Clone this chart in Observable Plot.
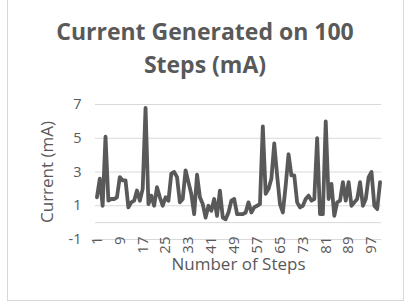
<!DOCTYPE html>
<html><head><meta charset="utf-8">
<script src="https://cdn.jsdelivr.net/npm/d3@7"></script>
<script src="https://cdn.jsdelivr.net/npm/@observablehq/plot@0.6"></script>
<style>
html,body{margin:0;padding:0;background:#fff;width:407px;height:302px;overflow:hidden;font-family:"Open Sans",sans-serif;}
#frame{position:absolute;left:7px;top:-1px;width:397px;height:302px;border:1px solid #d9d9d9;box-sizing:border-box;}
#title{position:absolute;left:7px;width:396px;top:15px;text-align:center;font-size:23px;font-weight:700;line-height:33px;color:#595959;}
#chart{position:absolute;left:0;top:85px;}
</style></head><body>
<div id="frame"></div>
<div id="title">Current Generated on 100<br>Steps (mA)</div>
<div id="chart"></div>
<script>
const steps = d3.range(1, 101);
const current = [
  1.5, 2.6, 1.0, 5.1, 1.3, 1.4, 1.4, 1.5, 2.7, 2.5,
  2.5, 0.9, 1.2, 1.3, 1.9, 1.3, 2.0, 6.8, 1.1, 1.6,
  1.0, 2.1, 1.5, 1.0, 1.5, 1.3, 2.9, 3.0, 2.7, 1.2,
  1.4, 3.1, 2.4, 1.7, 0.5, 2.85, 1.5, 1.1, 0.3, 1.0,
  0.7, 1.4, 0.4, 1.9, 0.3, 0.2, 0.6, 1.3, 1.4, 0.5,
  0.5, 0.5, 0.6, 1.2, 0.6, 0.9, 1.0, 1.1, 5.7, 1.7,
  2.0, 2.6, 4.7, 2.8, 1.1, 0.6, 2.2, 4.05, 2.8, 2.8,
  1.2, 0.9, 1.0, 1.4, 1.6, 1.3, 1.4, 5.0, 0.5, 0.5,
  6.0, 1.4, 2.3, 0.4, 1.2, 1.3, 2.4, 1.3, 2.4, 1.0,
  1.2, 1.4, 2.4, 1.0, 1.4, 2.7, 3.0, 1.0, 0.8, 2.4
];
const yTicks = [-1, 1, 3, 5, 7];
const gridValues = [-1, 0, 1, 3, 5, 7];
const xTicks = [1, 9, 17, 25, 33, 41, 49, 57, 65, 73, 81, 89, 97];
const yTitle = "Current (mA)";
const xTitle = "Number of Steps";

const data = steps.map((s, i) => ({step: s, current: current[i]}));

const chart = Plot.plot({
  width: 407, height: 217,
  marginTop: 19, marginBottom: 63, marginLeft: 95, marginRight: 26,
  x: {domain: [0.5, 100.5]},
  y: {domain: [-1, 7]},
  style: {fontFamily: "Open Sans", color: "#595959", background: "transparent", overflow: "visible"},
  marks: [
    Plot.ruleY(gridValues, {stroke: "#d9d9d9", strokeWidth: 1}),
    Plot.axisY(yTicks, {tickSize: 0, tickPadding: 14, fontSize: 14.5, fill: "#595959", label: null, tickFormat: d => String(d)}),
    Plot.axisX(xTicks, {tickSize: 0, tickRotate: -90, tickPadding: -3, fontSize: 15, fill: "#595959", label: null, tickFormat: d => String(d)}),
    Plot.line(data, {x: "step", y: "current", stroke: "#595959", strokeWidth: 3.8, strokeLinejoin: "round"}),
    Plot.text([yTitle], {text: d => d, frameAnchor: "left", textAnchor: "middle", lineAnchor: "middle", dx: -48, rotate: -90, fontSize: 17, fill: "#595959"}),
    Plot.text([xTitle], {text: d => d, frameAnchor: "bottom", textAnchor: "middle", lineAnchor: "middle", dy: 25, fontSize: 17, fill: "#595959"})
  ]
});
document.getElementById("chart").appendChild(chart);
</script>
</body></html>
